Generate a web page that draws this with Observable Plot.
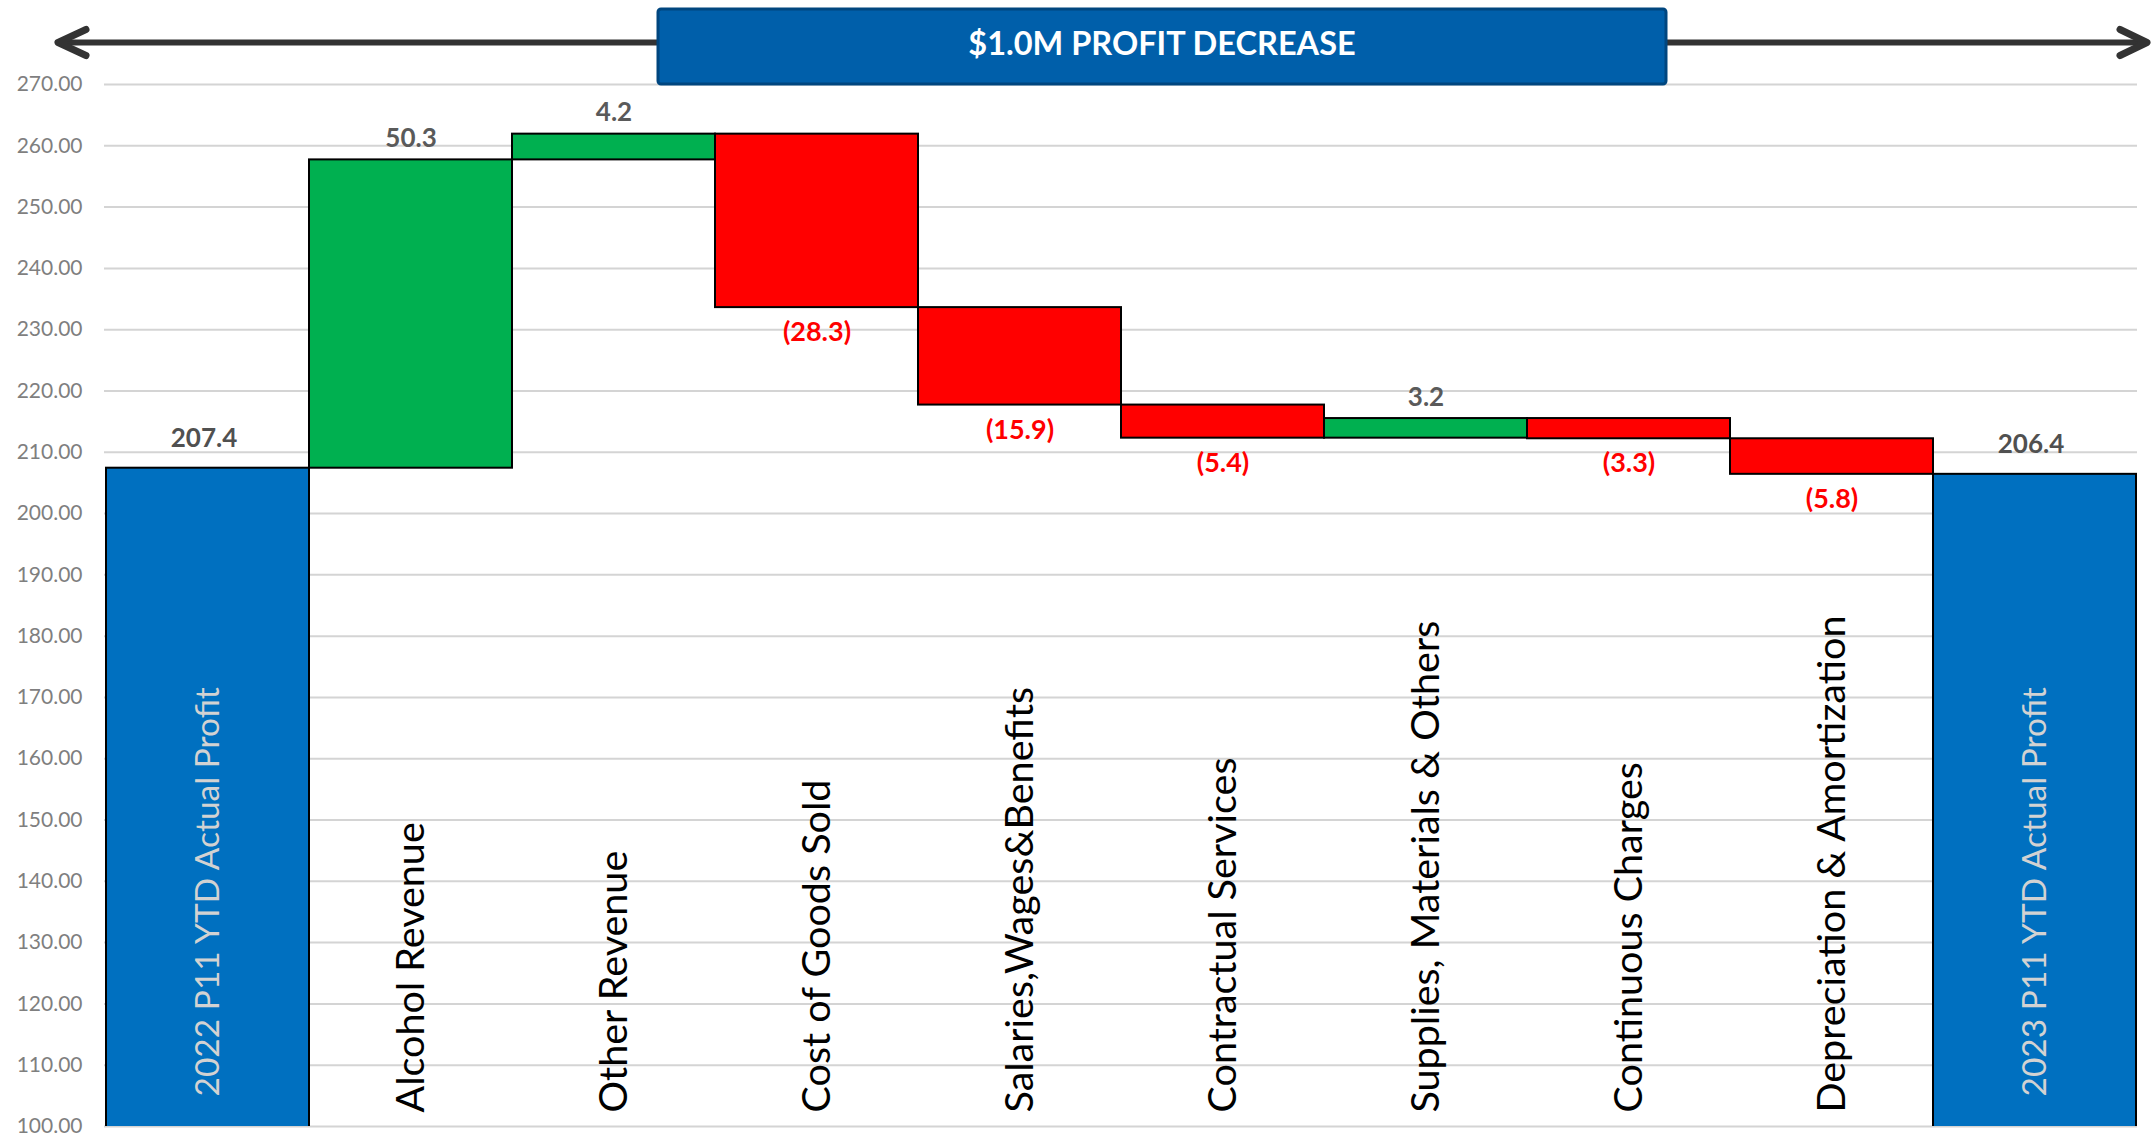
<!DOCTYPE html>
<html>
<head>
<meta charset="utf-8">
<script src="https://cdn.jsdelivr.net/npm/d3@7"></script>
<script src="https://cdn.jsdelivr.net/npm/@observablehq/plot@0.6"></script>
<style>
  html, body { margin: 0; padding: 0; background: #ffffff; }
  #chart svg { display: block; }
</style>
</head>
<body>
<div id="chart"></div>
<script>
// Profit bridge: 2022 P11 YTD actual profit to 2023 P11 YTD actual profit
const categories = [
  "2022 P11 YTD Actual Profit",
  "Alcohol Revenue",
  "Other Revenue",
  "Cost of Goods Sold",
  "Salaries,Wages&Benefits",
  "Contractual Services",
  "Supplies, Materials & Others",
  "Continuous Charges",
  "Depreciation & Amortization",
  "2023 P11 YTD Actual Profit"
];
const changes = [207.4, 50.3, 4.2, -28.3, -15.9, -5.4, 3.2, -3.3, -5.8, 206.4];
const kinds = ["total", "increase", "increase", "decrease", "decrease", "decrease", "increase", "decrease", "decrease", "total"];
const yTicks = d3.range(100, 271, 10);
const bannerText = "$1.0M PROFIT DECREASE";

// Running totals give each step its floating start and end
let running = 0;
const rows = categories.map((name, i) => {
  const kind = kinds[i];
  const value = changes[i];
  let y1, y2;
  if (kind === "total") {
    y1 = 0; y2 = value; running = value;
  } else {
    y1 = running; y2 = running + value; running = y2;
  }
  return {name, kind, value, y1, y2, top: Math.max(y1, y2), bottom: Math.min(y1, y2)};
});

const fmt = v => v < 0 ? `(${Math.abs(v).toFixed(1)})` : v.toFixed(1);
const totals = rows.filter(d => d.kind === "total");
const steps = rows.filter(d => d.kind !== "total");

const W = 2151, H = 1135;

const chart = Plot.plot({
  width: W,
  height: H,
  marginTop: 84,
  marginBottom: 9,
  marginLeft: 104,
  marginRight: 14,
  style: {fontFamily: "Lato, 'Open Sans', sans-serif", background: "#ffffff", overflow: "visible"},
  x: {domain: categories, padding: 0, axis: null},
  y: {domain: [100, 270]},
  color: {domain: ["total", "increase", "decrease"], range: ["#0070C0", "#00B050", "#FF0000"]},
  marks: [
    Plot.gridY(yTicks, {stroke: "#d4d4d4", strokeOpacity: 1, strokeWidth: 2}),
    Plot.axisY(yTicks, {
      tickSize: 0, tickPadding: 22, fontSize: 21, fill: "#7f7f7f",
      tickFormat: d => d.toFixed(2)
    }),
    Plot.barY(rows, {
      x: "name", y1: "y1", y2: "y2", fill: "kind",
      stroke: "#000000", strokeWidth: 2, inset: 0, clip: true
    }),
    // value labels above the two totals
    Plot.text(totals, {
      x: "name", y: "top", text: d => fmt(d.value),
      dy: -30, dx: -4, fontSize: 26, fontWeight: "bold", fill: "#505050"
    }),
    // value labels above increases
    Plot.text(steps.filter(d => d.value > 0), {
      x: "name", y: "top", text: d => fmt(d.value),
      dy: -21, fontSize: 26, fontWeight: "bold", fill: "#5a5a5a"
    }),
    // value labels below decreases
    Plot.text(steps.filter(d => d.value < 0), {
      x: "name", y: "bottom", text: d => fmt(d.value),
      dy: 25, fontSize: 27, fontWeight: "bold", fill: "#FF0000"
    }),
    // category names standing inside each column
    Plot.text(steps, {
      x: "name", frameAnchor: "bottom", text: "name",
      rotate: -90, textAnchor: "start", lineAnchor: "middle",
      dy: -14, fontSize: 39.5, fill: "#000000"
    }),
    Plot.text(totals, {
      x: "name", frameAnchor: "bottom", text: "name",
      rotate: -90, textAnchor: "start", lineAnchor: "middle",
      dy: -30, fontSize: 33.5, fill: "#d2d2d2"
    })
  ]
});

document.getElementById("chart").appendChild(chart);

// Headline: double-headed arrow across the top with the summary banner
const svg = d3.select(chart);
const note = svg.append("g");
const ay = 42.5;
const stroke = "#333333";
note.append("line")
  .attr("x1", 60).attr("x2", W - 5).attr("y1", ay).attr("y2", ay)
  .attr("stroke", stroke).attr("stroke-width", 6);
note.append("path")
  .attr("d", `M86,${ay - 13} L58,${ay} L86,${ay + 13}`)
  .attr("fill", "none").attr("stroke", stroke).attr("stroke-width", 7)
  .attr("stroke-linecap", "round").attr("stroke-linejoin", "round");
note.append("path")
  .attr("d", `M${W - 31},${ay - 13} L${W - 4},${ay} L${W - 31},${ay + 13}`)
  .attr("fill", "none").attr("stroke", stroke).attr("stroke-width", 7)
  .attr("stroke-linecap", "round").attr("stroke-linejoin", "round");

const bx = 658, bw = 1008, by = 9, bh = 75;
note.append("rect")
  .attr("x", bx).attr("y", by).attr("width", bw).attr("height", bh)
  .attr("rx", 3).attr("fill", "#005FAA").attr("stroke", "#00467F").attr("stroke-width", 3);
note.append("text")
  .attr("x", bx + bw / 2).attr("y", by + bh / 2 - 4)
  .attr("text-anchor", "middle").attr("dominant-baseline", "central")
  .attr("fill", "#ffffff").attr("font-weight", "bold").attr("font-size", 32.5)
  .text(bannerText);
</script>
</body>
</html>
